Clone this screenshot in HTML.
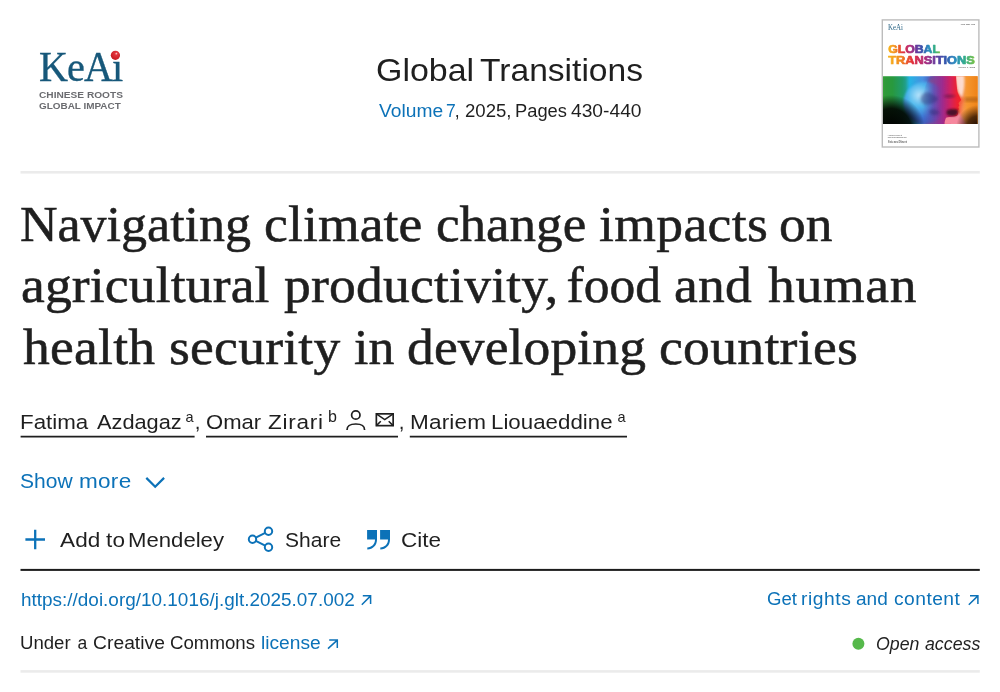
<!DOCTYPE html>
<html lang="en">
<head>
<meta charset="utf-8">
<title>Navigating climate change impacts on agricultural productivity, food and human health security in developing countries - ScienceDirect</title>
<style>
html,body{margin:0;padding:0;background:#fff;}
body{width:1000px;height:692px;position:relative;overflow:hidden;font-family:"Liberation Sans",sans-serif;color:#1f1f1f;}
.t{position:absolute;white-space:nowrap;line-height:1;display:block;transform-origin:0 0;}
.s{font-family:"Liberation Serif",serif;}
#title .t{-webkit-text-stroke:0.55px #1f1f1f;}
h1,h2,p,div{margin:0;padding:0;font-weight:normal;font-size:inherit;}
a{color:inherit;text-decoration:none;}
#gfx{position:absolute;left:0;top:0;z-index:2;}
#keai{left:38.8px;top:46.2px;font-size:42px;color:#17587a;transform-origin:0 0;transform:scaleX(0.957);letter-spacing:-1px;-webkit-text-stroke:0.35px #17587a;}
</style>
</head>
<body>

<svg id="gfx" width="1000" height="692" viewBox="0 0 1000 692">
  <defs>
    <radialGradient id="rd" cx="0.6" cy="0.32" r="0.7">
      <stop offset="0" stop-color="#fbd0d0"/><stop offset="0.22" stop-color="#e2343c"/><stop offset="1" stop-color="#c5161d"/>
    </radialGradient>
  </defs>
  <!-- rules -->
  <rect x="20.5" y="171" width="959.3" height="2.6" fill="#ebebeb"/>
  <rect x="20.5" y="568.9" width="959.3" height="2" fill="#1c1c1c"/>
  <rect x="20.5" y="670.1" width="959.3" height="2.6" fill="#ebebeb"/>
  <!-- logo dot -->
  <circle cx="115.4" cy="55.3" r="4.6" fill="url(#rd)"/>
  <!-- author underlines -->
  <g stroke="#1f1f1f" stroke-width="1.6">
    <path d="M20.600,436.600 H194.600 M206,436.600 H398 M409.800,436.600 H627"/>
  </g>
  <!-- person + envelope -->
  <g fill="none" stroke="#1f1f1f" stroke-width="1.700">
    <circle cx="355.800" cy="415" r="4.200"/>
    <path d="M347,430 C347,425.200 350,424 355.800,424 C361.600,424 364.600,425.200 364.600,430"/>
    <rect x="376.350" y="413.850" width="16.800" height="11.800"/>
    <path d="M376.350,413.850 L384.750,419.600 L393.150,413.850 M376.350,425.650 L380.800,421.200 M393.150,425.650 L388.700,421.200" stroke-width="1.500"/>
  </g>
  <g fill="none" stroke="#0c72b8">
    <!-- chevron -->
    <path d="M146.300,477.900 L155.200,486.800 L164.100,477.900" stroke-width="2.200"/>
    <!-- plus -->
    <path d="M35.200,529.700 V549.300 M25.400,539.500 H45" stroke-width="2.300"/>
    <!-- share -->
    <g stroke-width="2">
      <circle cx="268.500" cy="531.200" r="3.700"/><circle cx="252.500" cy="539.200" r="3.700"/><circle cx="268.500" cy="547.200" r="3.700"/>
      <path d="M255.800,537.550 L265.200,532.850 M255.800,540.850 L265.200,545.550"/>
    </g>
    <!-- external arrows -->
    <g stroke-width="1.500">
      <path d="M361.800,604.700 L370.600,595.900 M362.800,595.800 H370.600 V604"/>
      <path d="M968.800,604.700 L977.900,595.900 M970,595.800 H977.900 V604"/>
      <path d="M328,648.600 L337.300,640.100 M329.200,640 H337.300 V648"/>
    </g>
  </g>
  <!-- cite quotes -->
  <g fill="#0c72b8">
    <path d="M367.100,530.100 h9.900 v9.300 c0,5.900 -4,9.700 -9.700,10 v-2 c4.500,-0.300 7.700,-3.200 7.700,-8 h-7.900z"/>
    <path d="M380.100,530.100 h9.900 v9.300 c0,5.900 -4,9.700 -9.700,10 v-2 c4.500,-0.300 7.700,-3.200 7.700,-8 h-7.900z"/>
  </g>
  <!-- open access dot -->
  <circle cx="858.400" cy="643.700" r="6" fill="#56b94b"/>
</svg>

<!-- Publisher -->
<div id="publisher"><span class="t s" id="keai">KeAi</span> <span class="t" style="left:39.44px;top:90.36px;font-size:9.5px;transform:scaleX(1.0675);color:#6b6c70;font-weight:bold;">CHINESE ROOTS</span> <span class="t" style="left:39.45px;top:101.46px;font-size:9.5px;transform:scaleX(1.0445);color:#6b6c70;font-weight:bold;">GLOBAL IMPACT</span></div>

<!-- Journal -->
<h2 id="journal"><span class="t" style="left:375.90px;top:54.84px;font-size:31.5px;transform:scaleX(1.0775);">Global</span> <span class="t" style="left:480.39px;top:54.84px;font-size:31.5px;transform:scaleX(1.0663);">Transitions</span></h2>
<div id="volume"><a class="t" style="left:378.65px;top:102.69px;font-size:17.5px;transform:scaleX(1.0978);color:#0c72b8;">Volume</a> <a class="t" style="left:446.02px;top:102.69px;font-size:17.5px;color:#0c72b8;">7</a> <span class="t" style="left:454.86px;top:102.69px;font-size:17.5px;">,</span> <span class="t" style="left:464.78px;top:102.69px;font-size:17.5px;transform:scaleX(1.0611);">2025,</span> <span class="t" style="left:514.62px;top:102.69px;font-size:17.5px;transform:scaleX(1.0470);">Pages</span> <span class="t" style="left:571.16px;top:102.69px;font-size:17.5px;transform:scaleX(1.0980);">430-440</span></div>

<!-- Cover -->
<svg id="cover" style="position:absolute;left:881px;top:17px" width="99" height="132" viewBox="0 0 99 132">
  <defs>
    <linearGradient id="rb1" x1="0" y1="0" x2="1" y2="0">
      <stop offset="0" stop-color="#f7b51c"/><stop offset="0.14" stop-color="#f28a1e"/><stop offset="0.28" stop-color="#e3303c"/>
      <stop offset="0.42" stop-color="#b02a7c"/><stop offset="0.54" stop-color="#6a3a9c"/><stop offset="0.66" stop-color="#3558ae"/>
      <stop offset="0.78" stop-color="#2a8fc0"/><stop offset="0.89" stop-color="#34ae86"/><stop offset="1" stop-color="#7ac143"/>
    </linearGradient>
    <linearGradient id="band" x1="0" y1="0" x2="1" y2="0">
      <stop offset="0" stop-color="#3aa83e"/><stop offset="0.1" stop-color="#2fa648"/><stop offset="0.2" stop-color="#22aa8a"/>
      <stop offset="0.28" stop-color="#25b4e4"/><stop offset="0.42" stop-color="#4a8fe0"/><stop offset="0.52" stop-color="#4a4fb4"/>
      <stop offset="0.62" stop-color="#8a2f9c"/><stop offset="0.72" stop-color="#d0206a"/><stop offset="0.8" stop-color="#f0222c"/>
      <stop offset="0.86" stop-color="#f4602c"/><stop offset="0.92" stop-color="#f3902a"/><stop offset="1" stop-color="#ee8218"/>
    </linearGradient>
    <radialGradient id="globe" cx="0.36" cy="0.32" r="0.75">
      <stop offset="0" stop-color="#bfe8fb"/><stop offset="0.35" stop-color="#4fb8ee"/><stop offset="0.7" stop-color="#3a6fd2"/><stop offset="1" stop-color="#3a4fb0"/>
    </radialGradient>
    <linearGradient id="face" gradientUnits="userSpaceOnUse" x1="42" y1="0" x2="80" y2="0">
      <stop offset="0" stop-color="#4a5fc0" stop-opacity="0"/><stop offset="0.28" stop-color="#6a44ac" stop-opacity="0.800"/><stop offset="0.5" stop-color="#9a2c90"/><stop offset="0.72" stop-color="#d02060"/><stop offset="0.9" stop-color="#ee2030"/><stop offset="1" stop-color="#f42428"/>
    </linearGradient>
    <radialGradient id="bl" gradientUnits="userSpaceOnUse" cx="10" cy="112" r="34">
      <stop offset="0" stop-color="#000"/><stop offset="0.6" stop-color="#020602" stop-opacity="0.92"/><stop offset="1" stop-color="#000" stop-opacity="0"/>
    </radialGradient>
    <radialGradient id="br" gradientUnits="userSpaceOnUse" cx="97" cy="110" r="22">
      <stop offset="0" stop-color="#1a0a02"/><stop offset="0.5" stop-color="#2a1204" stop-opacity="0.8"/><stop offset="1" stop-color="#3a1a08" stop-opacity="0"/>
    </radialGradient>
    <linearGradient id="sky" x1="0" y1="0" x2="1" y2="0">
      <stop offset="0" stop-color="#f8b0a0"/><stop offset="0.3" stop-color="#f7a272"/><stop offset="0.6" stop-color="#f5962e"/><stop offset="1" stop-color="#ee8218"/>
    </linearGradient>
    <filter id="bl3" x="-30%" y="-30%" width="160%" height="160%"><feGaussianBlur stdDeviation="2.200"/></filter>
    <filter id="bl0" x="-20%" y="-20%" width="140%" height="140%"><feGaussianBlur stdDeviation="0.450"/></filter>
    <filter id="bl1" x="-20%" y="-20%" width="140%" height="140%"><feGaussianBlur stdDeviation="0.9"/></filter>
    <filter id="bl2" x="-20%" y="-20%" width="140%" height="140%"><feGaussianBlur stdDeviation="1.6"/></filter>
    <clipPath id="bc"><rect x="2" y="59.3" width="94.6" height="47.6"/></clipPath>
  </defs>
  <rect x="1.300" y="2.900" width="96.600" height="127.100" fill="#fff" stroke="#bcbcbc" stroke-width="1.400"/>
  <text x="6.900" y="12.500" font-family="Liberation Serif, serif" font-size="8.200" fill="#2a6484" textLength="15" lengthAdjust="spacingAndGlyphs">KeAi</text>
  <text x="79.700" y="8.400" font-family="Liberation Sans, sans-serif" font-size="2.100" fill="#444" textLength="14.500" lengthAdjust="spacingAndGlyphs">ISSN 2589-7918</text>
  <text x="7.200" y="35.900" font-family="Liberation Sans, sans-serif" font-weight="bold" font-size="10.900" fill="url(#rb1)" stroke="url(#rb1)" stroke-width="0.700" stroke-linejoin="round" textLength="51.800" lengthAdjust="spacingAndGlyphs">GLOBAL</text>
  <text x="7.200" y="46.800" font-family="Liberation Sans, sans-serif" font-weight="bold" font-size="10.900" fill="url(#rb1)" stroke="url(#rb1)" stroke-width="0.700" stroke-linejoin="round" textLength="86.600" lengthAdjust="spacingAndGlyphs">TRANSITIONS</text>
  <text x="77" y="51" font-family="Liberation Sans, sans-serif" font-size="2.300" fill="#444" textLength="17" lengthAdjust="spacingAndGlyphs">Volume 7, 2025</text>
  <g clip-path="url(#bc)">
    <rect x="2" y="59" width="95" height="48.500" fill="url(#band)"/>
    <rect x="2" y="59" width="24" height="48.500" fill="#1f7a2a" opacity="0.300" filter="url(#bl2)"/>
    <rect x="70" y="59" width="27" height="48.500" fill="url(#sky)"/>
    <path d="M50,58 L75,58 C75.300,65 75.800,71 76.500,75 C77.200,77 78.500,79.500 80.200,83 C79.200,84.800 77.600,85 77.500,86.500 C77.800,87.500 78.300,88 78.300,88.800 C78,89.500 77.200,89.800 77.200,90.300 C77.600,91 78,91.500 77.900,92.300 C77.400,93.200 76.600,93.600 76.600,94.500 C77,95.500 77.200,96.500 76.800,97.600 C76,99 75,99.400 73.500,99.600 C70,100 67,100 65,100.800 C64,103 63.600,105 63.500,108 L42,108 C39,92 41,70 50,58Z" fill="#f2402c" opacity="0.850" transform="translate(2.500,1)" filter="url(#bl3)"/>
    <path d="M74,58 h9 c1,8 0,16 -2,23 c-1,-2 -3,-4 -4,-6 c-1.500,-5 -2.500,-11 -3,-17z" fill="#fde4dc" opacity="0.900" filter="url(#bl1)"/>
    <path d="M62,99 C68,98 74,98 78,96 L86,108 L60,108Z" fill="#f6879e" filter="url(#bl1)"/>
    <rect x="84" y="80.500" width="14" height="4" fill="#8a4608" opacity="0.500" filter="url(#bl2)"/>
    <circle cx="44" cy="86" r="21.500" fill="url(#globe)" opacity="0.950" filter="url(#bl1)"/>
    <path d="M50,58 L75,58 C75.300,65 75.800,71 76.500,75 C77.200,77 78.500,79.500 80.200,83 C79.200,84.800 77.600,85 77.500,86.500 C77.800,87.500 78.300,88 78.300,88.800 C78,89.500 77.200,89.800 77.200,90.300 C77.600,91 78,91.500 77.900,92.300 C77.400,93.200 76.600,93.600 76.600,94.500 C77,95.500 77.200,96.500 76.800,97.600 C76,99 75,99.400 73.500,99.600 C70,100 67,100 65,100.800 C64,103 63.600,105 63.500,108 L42,108 C39,92 41,70 50,58Z" fill="url(#face)" filter="url(#bl0)"/>
    <path d="M42,77 c3,-3 8,-2 10,1 c3,1 5,2 5,5 c-3,1 -4,4 -8,4 c-4,2 -8,0 -9,-3 c-1,-3 0,-5 2,-7z M49,93 c4,-2 8,0 10,3 c-2,2 -6,3 -9,1.500 c-2,-1 -2,-3 -1,-4.500z" fill="#26256e" opacity="0.450" filter="url(#bl2)"/>
    <path d="M66.500,93 c4,-1.500 8.500,-1 10.500,0 c0.500,2.500 0,4.500 -2,5.500 c-3.500,1 -7,0.500 -9,-1 c-1,-2 -0.500,-3.500 0.500,-4.500z" fill="#2a0820" opacity="0.800" filter="url(#bl1)"/>
    <path d="M62,79 c4,-2 9,-2 13,0 c-3,2 -9,3 -13,0z" fill="#4a0f3a" opacity="0.450" filter="url(#bl1)"/>
    <rect x="2" y="59" width="95" height="48.500" fill="url(#bl)"/>
    <rect x="2" y="59" width="95" height="48.500" fill="url(#br)"/>
  </g>
  <text x="6.800" y="118.800" font-family="Liberation Sans, sans-serif" font-size="2" fill="#444" textLength="14.200" lengthAdjust="spacingAndGlyphs">Available online at</text>
  <text x="6.800" y="121.300" font-family="Liberation Sans, sans-serif" font-size="2" fill="#444" textLength="19" lengthAdjust="spacingAndGlyphs">www.keaipublishing.com</text>
  <text x="6.800" y="125.800" font-family="Liberation Serif, serif" font-size="3.600" fill="#222" textLength="19.200" lengthAdjust="spacingAndGlyphs">ScienceDirect</text>
</svg>

<h1 id="title"><span class="t s" style="left:20.49px;top:198.37px;font-size:51.5px;transform:scaleX(1.0095);">Navigating</span> <span class="t s" style="left:263.87px;top:198.37px;font-size:51.5px;letter-spacing:0.116px;transform:scaleX(1.0400);">climate</span> <span class="t s" style="left:435.66px;top:198.37px;font-size:51.5px;transform:scaleX(1.0298);">change</span> <span class="t s" style="left:598.53px;top:198.37px;font-size:51.5px;letter-spacing:0.367px;transform:scaleX(1.0400);">impacts</span> <span class="t s" style="left:779.47px;top:198.37px;font-size:51.5px;transform:scaleX(1.0385);">on</span>
<span class="t s" style="left:20.89px;top:259.07px;font-size:51.5px;letter-spacing:0.142px;transform:scaleX(1.0400);">agricultural</span> <span class="t s" style="left:283.87px;top:259.07px;font-size:51.5px;letter-spacing:0.203px;transform:scaleX(1.0400);">productivity,</span> <span class="t s" style="left:566.53px;top:259.07px;font-size:51.5px;">food</span> <span class="t s" style="left:674.42px;top:259.07px;font-size:51.5px;letter-spacing:0.162px;transform:scaleX(1.0400);">and</span> <span class="t s" style="left:768.49px;top:259.07px;font-size:51.5px;letter-spacing:0.634px;transform:scaleX(1.0400);">human</span>
<span class="t s" style="left:22.92px;top:320.77px;font-size:51.5px;letter-spacing:0.244px;transform:scaleX(1.0400);">health</span> <span class="t s" style="left:169.11px;top:320.77px;font-size:51.5px;letter-spacing:0.238px;transform:scaleX(1.0400);">security</span> <span class="t s" style="left:354.00px;top:320.77px;font-size:51.5px;transform:scaleX(1.0056);">in</span> <span class="t s" style="left:407.01px;top:320.77px;font-size:51.5px;letter-spacing:0.100px;transform:scaleX(1.0400);">developing</span> <span class="t s" style="left:659.19px;top:320.77px;font-size:51.5px;letter-spacing:0.311px;transform:scaleX(1.0400);">countries</span></h1>

<div id="authors"><span class="t" style="left:20.20px;top:412.25px;font-size:20.5px;transform:scaleX(1.0887);">Fatima</span> <span class="t" style="left:96.68px;top:412.25px;font-size:20.5px;transform:scaleX(1.0614);">Azdagaz</span> <span class="t" style="left:185.49px;top:410.33px;font-size:14.5px;">a</span> <span class="t" style="left:194.74px;top:412.25px;font-size:20.5px;">,</span> <span class="t" style="left:205.55px;top:412.25px;font-size:20.5px;transform:scaleX(1.0750);">Omar</span> <span class="t" style="left:267.76px;top:412.25px;font-size:20.5px;letter-spacing:0.645px;transform:scaleX(1.1000);">Zirari</span> <span class="t" style="left:327.88px;top:408.66px;font-size:16px;">b</span> <span class="t" style="left:398.74px;top:412.25px;font-size:20.5px;">,</span> <span class="t" style="left:409.57px;top:412.25px;font-size:20.5px;letter-spacing:0.153px;transform:scaleX(1.1000);">Mariem</span> <span class="t" style="left:490.70px;top:412.25px;font-size:20.5px;transform:scaleX(1.0883);">Liouaeddine</span> <span class="t" style="left:617.49px;top:410.23px;font-size:14.5px;">a</span></div>

<div id="showmore"><a class="t" style="left:20.07px;top:470.65px;font-size:20.5px;transform:scaleX(1.0252);color:#0c72b8;">Show</a> <a class="t" style="left:78.86px;top:470.65px;font-size:20.5px;letter-spacing:0.244px;transform:scaleX(1.1000);color:#0c72b8;">more</a></div>

<div id="actions"><span class="t" style="left:60.14px;top:529.65px;font-size:20.5px;letter-spacing:0.090px;transform:scaleX(1.1000);">Add</span> <span class="t" style="left:105.80px;top:529.65px;font-size:20.5px;letter-spacing:0.249px;transform:scaleX(1.1000);">to</span> <span class="t" style="left:127.72px;top:529.65px;font-size:20.5px;transform:scaleX(1.0799);">Mendeley</span> <span class="t" style="left:284.58px;top:529.65px;font-size:20.5px;transform:scaleX(1.0248);">Share</span> <span class="t" style="left:401.30px;top:529.65px;font-size:20.5px;transform:scaleX(1.0991);">Cite</span></div>

<div id="doi"><a class="t" style="left:20.52px;top:591.99px;font-size:17.5px;transform:scaleX(1.0821);color:#0c72b8;">https://doi.org/10.1016/j.glt.2025.07.002</a></div>
<div id="rights"><a class="t" style="left:766.56px;top:590.79px;font-size:17.5px;transform:scaleX(1.0623);color:#0c72b8;">Get</a> <a class="t" style="left:801.38px;top:590.79px;font-size:17.5px;letter-spacing:0.510px;transform:scaleX(1.1000);color:#0c72b8;">rights</a> <a class="t" style="left:856.43px;top:590.79px;font-size:17.5px;transform:scaleX(1.0878);color:#0c72b8;">and</a> <a class="t" style="left:894.12px;top:590.79px;font-size:17.5px;letter-spacing:0.412px;transform:scaleX(1.1000);color:#0c72b8;">content</a></div>
<div id="license"><span class="t" style="left:19.70px;top:635.09px;font-size:17.5px;transform:scaleX(1.0621);">Under</span> <span class="t" style="left:77.56px;top:635.09px;font-size:17.5px;">a</span> <span class="t" style="left:93.41px;top:635.09px;font-size:17.5px;letter-spacing:0.034px;transform:scaleX(1.1000);">Creative</span> <span class="t" style="left:170.13px;top:635.09px;font-size:17.5px;transform:scaleX(1.0665);">Commons</span> <a class="t" style="left:261.36px;top:635.09px;font-size:17.5px;transform:scaleX(1.0964);color:#0c72b8;">license</a></div>
<div id="oa"><span class="t" style="left:876.13px;top:635.69px;font-size:17.5px;transform:scaleX(1.0136);font-style:italic;">Open</span> <span class="t" style="left:924.55px;top:635.69px;font-size:17.5px;transform:scaleX(1.0145);font-style:italic;">access</span></div>

</body>
</html>
